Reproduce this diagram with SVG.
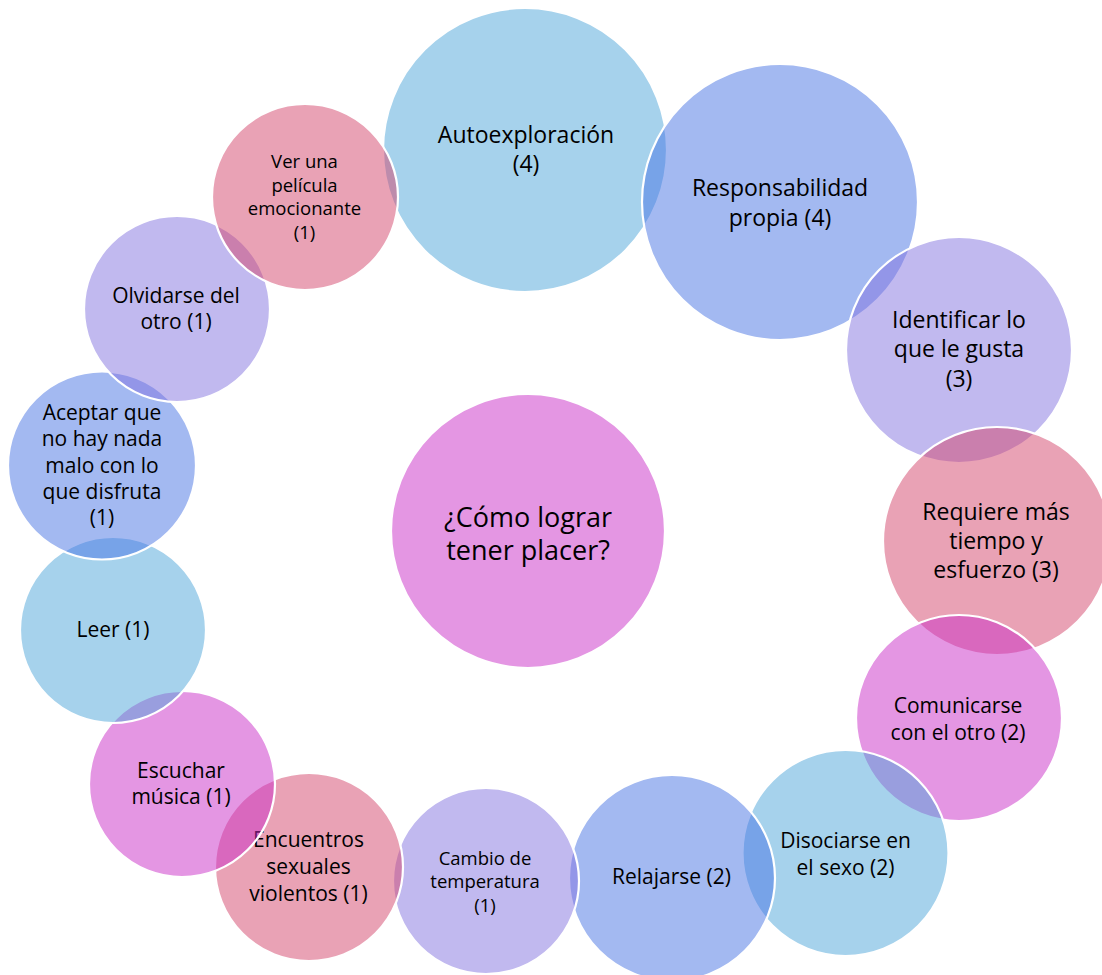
<svg xmlns="http://www.w3.org/2000/svg" width="1102" height="975" viewBox="0 0 1102 975">
  <style>
    .bubble { stroke: #ffffff; stroke-width: 2.2; fill-opacity: 0.5; }
    .sky { fill: #4da5d9; }
    .blue { fill: #4773e3; }
    .lilac { fill: #8373df; }
    .rose { fill: #d3456b; }
    .orchid { fill: #c92dc7; }
    text { font-family: "Open Sans", "Noto Sans", "DejaVu Sans", sans-serif; fill: #000000; text-anchor: middle; }
    .xl { font-size: 27px; }
    .lg { font-size: 23px; }
    .md { font-size: 21px; }
    .sm { font-size: 18.5px; }
  </style>

  <rect width="1102" height="975" fill="#ffffff"/>

  <!-- central question -->
  <g id="node-center">
    <circle class="bubble orchid" cx="528" cy="531" r="137"/>
    <text class="xl"><tspan x="528" y="527">¿Cómo lograr</tspan><tspan x="528" y="560">tener placer?</tspan></text>
  </g>

  <!-- surrounding answers, drawn clockwise from the top -->
  <g id="node-autoexploracion">
    <circle class="bubble sky" cx="525" cy="150" r="142"/>
    <text class="lg"><tspan x="526" y="143">Autoexploración</tspan><tspan x="526" y="172">(4)</tspan></text>
  </g>

  <g id="node-responsabilidad">
    <circle class="bubble blue" cx="780" cy="202" r="138"/>
    <text class="lg"><tspan x="780" y="196">Responsabilidad</tspan><tspan x="780" y="226">propia (4)</tspan></text>
  </g>

  <g id="node-identificar">
    <circle class="bubble lilac" cx="959" cy="350" r="113"/>
    <text class="lg"><tspan x="959" y="328">Identificar lo</tspan><tspan x="959" y="357">que le gusta</tspan><tspan x="959" y="387">(3)</tspan></text>
  </g>

  <g id="node-requiere">
    <circle class="bubble rose" cx="997" cy="541" r="114"/>
    <text class="lg"><tspan x="996" y="520">Requiere más</tspan><tspan x="996" y="549">tiempo y</tspan><tspan x="996" y="578">esfuerzo (3)</tspan></text>
  </g>

  <g id="node-comunicarse">
    <circle class="bubble orchid" cx="959" cy="718" r="103"/>
    <text class="md"><tspan x="958" y="713">Comunicarse</tspan><tspan x="958" y="740">con el otro (2)</tspan></text>
  </g>

  <g id="node-disociarse">
    <circle class="bubble sky" cx="845.5" cy="853" r="103"/>
    <text class="md"><tspan x="845.5" y="848">Disociarse en</tspan><tspan x="845.5" y="875">el sexo (2)</tspan></text>
  </g>

  <g id="node-relajarse">
    <circle class="bubble blue" cx="672" cy="878" r="103"/>
    <text class="md"><tspan x="671.5" y="884">Relajarse (2)</tspan></text>
  </g>

  <g id="node-cambio">
    <circle class="bubble lilac" cx="486" cy="881" r="93"/>
    <text class="sm"><tspan x="485" y="865">Cambio de</tspan><tspan x="485" y="888">temperatura</tspan><tspan x="485" y="912">(1)</tspan></text>
  </g>

  <g id="node-encuentros">
    <circle class="bubble rose" cx="309" cy="867" r="94"/>
    <text class="md"><tspan x="308.5" y="847">Encuentros</tspan><tspan x="308.5" y="873.5">sexuales</tspan><tspan x="308.5" y="900.5">violentos (1)</tspan></text>
  </g>

  <g id="node-escuchar">
    <circle class="bubble orchid" cx="182" cy="784" r="93"/>
    <text class="md"><tspan x="181" y="778">Escuchar</tspan><tspan x="181" y="804">música (1)</tspan></text>
  </g>

  <g id="node-leer">
    <circle class="bubble sky" cx="113" cy="630" r="93"/>
    <text class="md"><tspan x="113" y="637">Leer (1)</tspan></text>
  </g>

  <g id="node-aceptar">
    <circle class="bubble blue" cx="102" cy="465.5" r="94"/>
    <text class="md"><tspan x="102" y="420">Aceptar que</tspan><tspan x="102" y="446">no hay nada</tspan><tspan x="102" y="472.5">malo con lo</tspan><tspan x="102" y="498.5">que disfruta</tspan><tspan x="102" y="525">(1)</tspan></text>
  </g>

  <g id="node-olvidarse">
    <circle class="bubble lilac" cx="177" cy="309" r="93"/>
    <text class="md"><tspan x="176" y="303">Olvidarse del</tspan><tspan x="176" y="329">otro (1)</tspan></text>
  </g>

  <g id="node-pelicula">
    <circle class="bubble rose" cx="305" cy="197" r="93"/>
    <text class="sm"><tspan x="304.5" y="168">Ver una</tspan><tspan x="304.5" y="192">película</tspan><tspan x="304.5" y="215">emocionante</tspan><tspan x="304.5" y="238.5">(1)</tspan></text>
  </g>
</svg>
